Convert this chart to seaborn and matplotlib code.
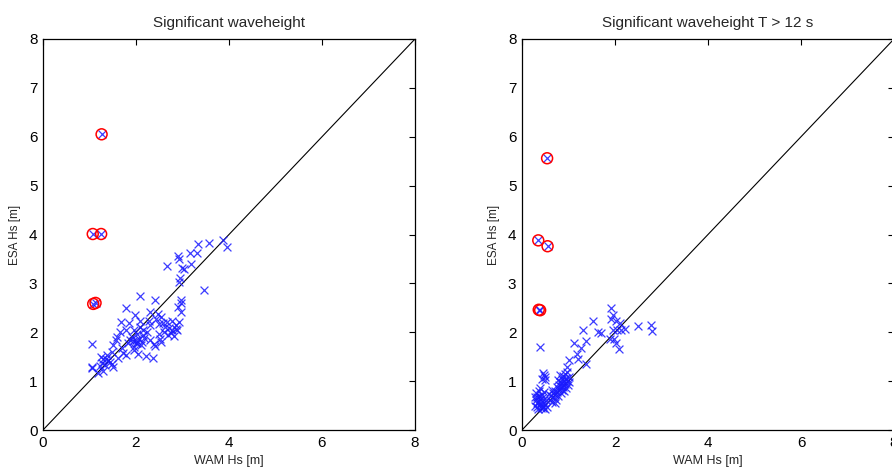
import matplotlib
matplotlib.use("Agg")
import matplotlib.pyplot as plt
import seaborn as sns
import pandas as pd

# All sea states: WAM model Hs vs ESA altimeter Hs [m]
wam_all = [3.87, 3.95, 3.57, 3.34, 3.32, 3.16, 3.19, 2.90, 2.92, 2.67, 2.98, 3.04, 2.94, 2.93,
           3.47, 2.09, 2.41, 2.96, 2.97, 2.90, 2.97, 1.79, 2.31, 2.47, 2.54, 1.67, 1.86, 1.98,
           2.08, 2.27, 2.67, 2.77, 2.92, 2.63, 2.88, 2.77, 1.66, 1.79, 1.95, 2.09, 2.68, 2.81,
           2.49, 2.52, 2.31, 1.91, 1.99, 2.03, 2.13, 1.87, 1.82, 1.57, 1.51, 1.69, 1.78, 1.95,
           2.05, 2.22, 2.36, 2.38, 2.41, 2.54, 1.06, 1.37, 1.25, 1.30, 1.40, 1.48, 1.33, 1.23,
           1.51, 1.30, 1.05, 1.06, 1.19, 1.59, 1.48, 2.16, 2.23, 2.16, 2.02, 1.94, 2.06, 2.00,
           2.10, 1.96, 2.18, 2.30, 2.44, 2.58, 2.72, 2.85, 1.73, 1.62, 1.44, 1.36, 1.26, 2.60,
           2.50, 2.75, 2.86, 1.26, 1.07, 1.25, 1.08, 1.13]
esa_all = [3.88, 3.74, 3.82, 3.80, 3.62, 3.62, 3.39, 3.55, 3.50, 3.36, 3.32, 3.30, 3.12, 3.03,
           2.87, 2.74, 2.65, 2.65, 2.60, 2.52, 2.41, 2.50, 2.41, 2.38, 2.31, 2.21, 2.19, 2.35,
           2.24, 2.24, 2.21, 2.23, 2.21, 2.11, 2.04, 2.04, 2.01, 2.04, 2.04, 2.11, 1.94, 1.92,
           1.97, 1.87, 1.84, 1.90, 1.84, 1.77, 1.80, 1.84, 1.77, 1.84, 1.73, 1.67, 1.53, 1.63,
           1.56, 1.51, 1.48, 1.76, 1.71, 1.80, 1.76, 1.53, 1.50, 1.46, 1.43, 1.36, 1.33, 1.31,
           1.29, 1.21, 1.29, 1.27, 1.16, 1.90, 1.60, 2.04, 2.01, 1.94, 1.97, 1.82, 1.86, 1.78,
           1.74, 1.70, 1.88, 2.14, 2.28, 2.18, 2.08, 2.14, 1.58, 1.48, 1.40, 1.45, 1.38, 2.00,
           2.16, 1.98, 2.06, 6.05, 4.01, 4.01, 2.58, 2.60]
# Flagged outliers in the full set
wam_out_all = [1.26, 1.07, 1.25, 1.08, 1.13]
esa_out_all = [6.05, 4.01, 4.01, 2.58, 2.60]

# Long-period swell only (T > 12 s)
wam_t12 = [1.91, 1.91, 1.96, 2.02, 2.11, 2.22, 2.13, 1.96, 2.05, 1.89, 1.98, 2.02, 2.09, 2.50,
           2.77, 2.79, 1.52, 1.64, 1.69, 1.31, 1.38, 1.11, 1.27, 1.18, 1.21, 1.38, 1.00, 0.96,
           0.39, 0.46, 0.49, 0.44, 0.47, 0.50, 0.39, 0.32,
           0.28, 0.30, 0.32, 0.33, 0.35, 0.36, 0.38, 0.40, 0.42, 0.44, 0.46, 0.48, 0.50, 0.52,
           0.31, 0.34, 0.39, 0.43, 0.47, 0.29, 0.37, 0.54, 0.41, 0.45,
           0.60, 0.62, 0.65, 0.66, 0.68, 0.70, 0.72, 0.73, 0.75, 0.76, 0.78, 0.79, 0.80, 0.82,
           0.83, 0.84, 0.85, 0.86, 0.87, 0.88, 0.89, 0.90, 0.91, 0.92, 0.93, 0.94, 0.95, 0.96,
           0.97, 0.98, 1.00, 1.02, 0.70, 0.64, 0.58, 0.77, 0.81,
           0.54, 0.35, 0.55, 0.36, 0.39]
esa_t12 = [2.50, 2.28, 2.35, 2.24, 2.18, 2.07, 2.05, 2.05, 2.04, 1.87, 1.87, 1.77, 1.65, 2.12,
           2.14, 2.03, 2.22, 2.01, 1.99, 2.04, 1.82, 1.77, 1.67, 1.56, 1.46, 1.36, 1.43, 1.29,
           1.69, 1.16, 1.09, 1.05, 1.12, 1.02, 0.85, 0.68,
           0.68, 0.62, 0.55, 0.48, 0.58, 0.70, 0.52, 0.45, 0.60, 0.66, 0.50, 0.56, 0.42, 0.62,
           0.75, 0.42, 0.64, 0.72, 0.78, 0.50, 0.80, 0.48, 0.55, 0.44,
           0.62, 0.70, 0.58, 0.76, 0.66, 0.80, 0.72, 0.62, 0.88, 0.78, 0.70, 0.92, 0.84, 0.98,
           0.76, 0.90, 1.04, 0.82, 0.96, 1.10, 0.88, 1.00, 0.80, 1.14, 0.94, 1.06, 0.86, 1.00,
           1.18, 0.92, 1.08, 0.98, 0.56, 0.82, 0.74, 1.02, 1.12,
           5.56, 3.88, 3.76, 2.46, 2.45]
wam_out_t12 = [0.54, 0.35, 0.55, 0.36, 0.39]
esa_out_t12 = [5.56, 3.88, 3.76, 2.46, 2.45]

titles = ["Significant waveheight", "Significant waveheight T > 12 s"]
ticks_x = [0, 2, 4, 6, 8]
ticks_y = [0, 1, 2, 3, 4, 5, 6, 7, 8]

sns.set_style("white")
plt.rcParams["font.family"] = ["Liberation Sans", "DejaVu Sans"]

fig = plt.figure(figsize=(8.92, 4.70), dpi=100)
ax1 = fig.add_axes([43 / 892, 40 / 470, 372 / 892, 391 / 470])
ax2 = fig.add_axes([522 / 892, 40 / 470, 372 / 892, 391 / 470])

panels = [
    (ax1, wam_all, esa_all, wam_out_all, esa_out_all, titles[0]),
    (ax2, wam_t12, esa_t12, wam_out_t12, esa_out_t12, titles[1]),
]

for ax, wx, ey, wo, eo, title in panels:
    pts = pd.DataFrame({"wam": wx, "esa": ey})
    out = pd.DataFrame({"wam": wo, "esa": eo})
    ax.plot([0, 8], [0, 8], color="black", linewidth=0.8, zorder=1)
    sns.scatterplot(data=pts, x="wam", y="esa", marker="x", color="#1a1aff",
                    s=32, linewidth=0.9, alpha=0.85, ax=ax, zorder=2)
    sns.scatterplot(data=out, x="wam", y="esa", marker="o", facecolors="none",
                    edgecolors="red", s=62, linewidth=1.1, ax=ax, zorder=3)
    ax.set_xlim(0, 8)
    ax.set_ylim(0, 8)
    ax.set_xticks(ticks_x)
    ax.set_yticks(ticks_y)
    ax.tick_params(direction="in", length=4, width=0.8, top=True, right=True,
                   labelsize=11, colors="black", pad=4)
    for sp in ax.spines.values():
        sp.set_color("black")
        sp.set_linewidth(0.9)
    ax.set_title(title, fontsize=11, pad=9)
    ax.set_xlabel("WAM Hs [m]", fontsize=9, labelpad=4)
    ax.set_ylabel("ESA Hs [m]", fontsize=8.5, labelpad=6)

fig.savefig("out.png", dpi=100, facecolor="white")
